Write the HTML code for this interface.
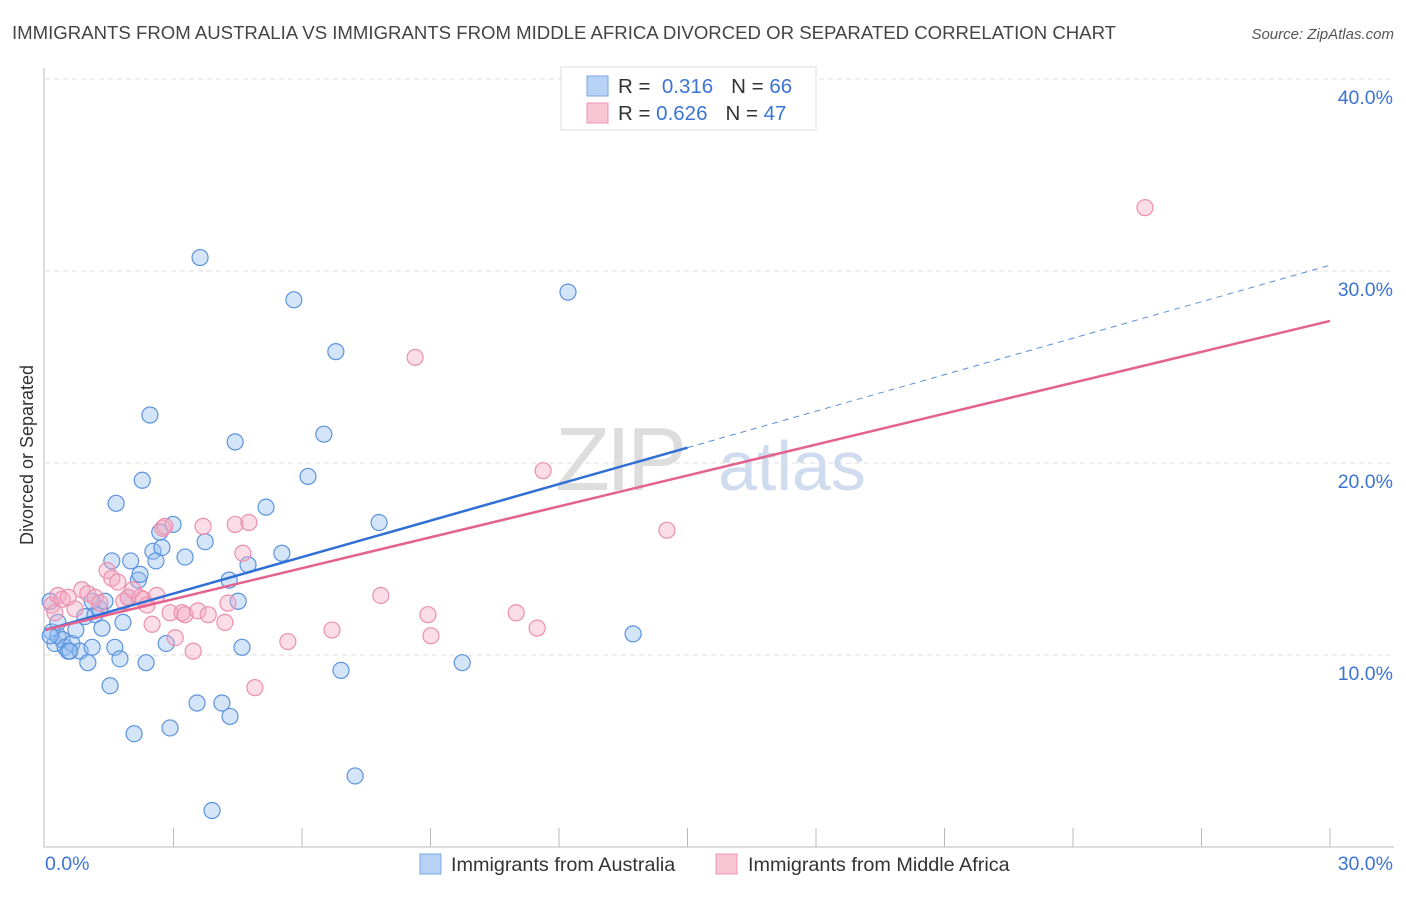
<!DOCTYPE html>
<html><head><meta charset="utf-8"><style>
body{margin:0;background:#fff;font-family:"Liberation Sans",sans-serif;}
svg text{font-family:"Liberation Sans",sans-serif;}
</style></head><body>
<svg id="chart" width="1406" height="892" xmlns="http://www.w3.org/2000/svg">
<text x="12" y="39" font-size="18.6" fill="#444">IMMIGRANTS FROM AUSTRALIA VS IMMIGRANTS FROM MIDDLE AFRICA DIVORCED OR SEPARATED CORRELATION CHART</text>
<text x="1394" y="39" font-size="15" fill="#555" font-style="italic" text-anchor="end">Source: ZipAtlas.com</text>
<text transform="translate(33,455) rotate(-90)" font-size="18" fill="#333" text-anchor="middle">Divorced or Separated</text>
<g>
<text x="555" y="490" font-size="90" fill="#ddd" font-family="Liberation Serif" letter-spacing="-4">ZIP</text>
<text x="718" y="490" font-size="70" fill="#cfdcef">atlas</text>
</g>
<g id="grid"></g><g id="axes"></g><g id="pts"></g><g id="lines"></g>
<g>
<rect x="561" y="67" width="255" height="63" fill="#fff" stroke="#ddd"/>
<rect x="587" y="76" width="21" height="20" fill="#b8d2f5" stroke="#7aa6e3"/>
<rect x="587" y="103" width="21" height="20" fill="#f9c5d5" stroke="#ec95b0"/>
<text x="618" y="93" font-size="20.5" fill="#333">R = <tspan fill="#3b74d4">&#160;0.316</tspan><tspan dx="18">N = </tspan><tspan fill="#3b74d4">66</tspan></text>
<text x="618" y="120" font-size="20.5" fill="#333">R = <tspan fill="#3b74d4">0.626</tspan><tspan dx="18">N = </tspan><tspan fill="#3b74d4">47</tspan></text>
</g>
<g>
<rect x="420" y="854" width="21" height="20" fill="#b8d2f5" stroke="#7aa6e3"/>
<text x="451" y="871" font-size="19.8" fill="#333">Immigrants from Australia</text>
<rect x="716" y="854" width="21" height="20" fill="#f9c5d5" stroke="#ec95b0"/>
<text x="748" y="871" font-size="19.8" fill="#333">Immigrants from Middle Africa</text>
</g>
</svg>
<script>
const yTicks=[10,20,30,40];
const yTickLabels=["10.0%","20.0%","30.0%","40.0%"];
const xTickLabels=["0.0%","30.0%"];
const blueX=[0.12,0.16,0.23,0.3,0.4,0.47,0.54,0.63,0.72,0.82,0.93,1.0,1.1,1.17,1.28,1.33,1.4,1.52,1.56,1.63,1.66,1.75,1.82,1.94,2.0,2.08,2.18,2.27,2.36,2.45,2.52,2.59,2.68,2.73,2.83,2.92,2.99,3.27,3.55,3.62,3.74,3.9,4.13,4.3,4.32,4.44,4.51,4.6,4.74,5.16,5.53,5.81,6.14,6.51,6.79,6.91,7.24,7.8,9.74,12.21,13.73,0.12,0.3,0.58,1.1,2.22];
const blueY=[12.8,11.2,10.6,11.0,10.8,10.4,10.2,10.6,11.3,10.2,12.0,9.6,10.4,12.1,12.4,11.4,12.8,8.4,14.9,10.4,17.9,9.8,11.7,13.0,14.9,5.9,13.9,19.1,9.6,22.5,15.4,14.9,16.4,15.6,10.6,6.2,16.8,15.1,7.5,30.7,15.9,1.9,7.5,13.9,6.8,21.1,12.8,10.4,14.7,17.7,15.3,28.5,19.3,21.5,25.8,9.2,3.7,16.9,9.6,28.9,11.1,11.0,11.7,10.2,12.8,14.2];
const pinkX=[0.16,0.23,0.3,0.4,0.54,0.7,0.86,1.0,1.17,1.28,1.45,1.56,1.7,1.84,1.94,2.05,2.22,2.29,2.38,2.5,2.61,2.75,2.8,2.92,3.04,3.2,3.27,3.46,3.57,3.69,3.81,4.2,4.27,4.44,4.62,4.76,4.9,5.67,6.7,7.84,8.64,8.94,9.01,11.0,11.49,11.63,14.52,25.68];
const pinkY=[12.6,12.2,13.1,12.9,13.0,12.4,13.4,13.2,13.0,12.7,14.4,14.0,13.8,12.8,13.0,13.4,13.0,12.9,12.6,11.6,13.1,16.6,16.7,12.2,10.9,12.2,12.1,10.2,12.3,16.7,12.1,11.7,12.7,16.8,15.3,16.9,8.3,10.7,11.3,13.1,25.5,12.1,11.0,12.2,11.4,19.6,16.5,33.3];
const blueLine=[0,11.3,30,30.3];
const pinkLine=[0,11.3,30,27.4];
const NS="http://www.w3.org/2000/svg";
const X0=45,X1=1330,Y0=847;
const xs=v=>X0+v*(X1-X0)/30;
const ys=v=>Y0-v*19.2;
function mk(t,a,p){const e=document.createElementNS(NS,t);for(const k in a)e.setAttribute(k,a[k]);document.getElementById(p).appendChild(e);return e;}
yTicks.forEach((t,i)=>{
 const l=mk('line',{x1:X0,x2:1394,y1:ys(t),y2:ys(t),stroke:'#ddd','stroke-dasharray':'5,4'},'grid');
 
 
 const tx=mk('text',{x:1393,y:ys(t)+25,'font-size':19.5,fill:'#3b74d4','text-anchor':'end'},'axes');
 tx.textContent=yTickLabels[i];
 
 
});
const ax=mk('line',{x1:44,x2:44,y1:68,y2:Y0,stroke:'#bbb'},'axes');


const bx=mk('line',{x1:44,x2:1394,y1:Y0,y2:Y0,stroke:'#bbb'},'axes');


for(let i=1;i<=10;i++){const t=mk('line',{x1:xs(i*3),x2:xs(i*3),y1:828,y2:Y0,stroke:'#bbb'},'axes');
 
 }
[[0,'start',45],[30,'end',1393]].forEach((d,i)=>{const t=mk('text',{x:d[2],y:870,'font-size':19.5,fill:'#3b74d4','text-anchor':d[1]},'axes');t.textContent=xTickLabels[i];
 
 });
blueX.forEach((v,i)=>{const c=mk('circle',{cx:xs(v),cy:ys(blueY[i]),r:8,fill:'rgba(150,190,240,0.4)',stroke:'#5b93de','stroke-width':1.2},'pts');
 
 });
pinkX.forEach((v,i)=>{const c=mk('circle',{cx:xs(v),cy:ys(pinkY[i]),r:8,fill:'rgba(246,170,195,0.4)',stroke:'#ec8fae','stroke-width':1.2},'pts');
 
 });
const bm=15;const bmy=blueLine[1]+(blueLine[3]-blueLine[1])*(bm-blueLine[0])/(blueLine[2]-blueLine[0]);
const l1=mk('line',{x1:xs(blueLine[0]),y1:ys(blueLine[1]),x2:xs(bm),y2:ys(bmy),stroke:'#2f6fd6','stroke-width':2.5},'lines');


const l2=mk('line',{x1:xs(bm),y1:ys(bmy),x2:xs(blueLine[2]),y2:ys(blueLine[3]),stroke:'#5b8fd8','stroke-width':1,'stroke-dasharray':'6,5'},'lines');


const l3=mk('line',{x1:xs(pinkLine[0]),y1:ys(pinkLine[1]),x2:xs(pinkLine[2]),y2:ys(pinkLine[3]),stroke:'#e5618e','stroke-width':2.5},'lines');


</script>
</body></html>
